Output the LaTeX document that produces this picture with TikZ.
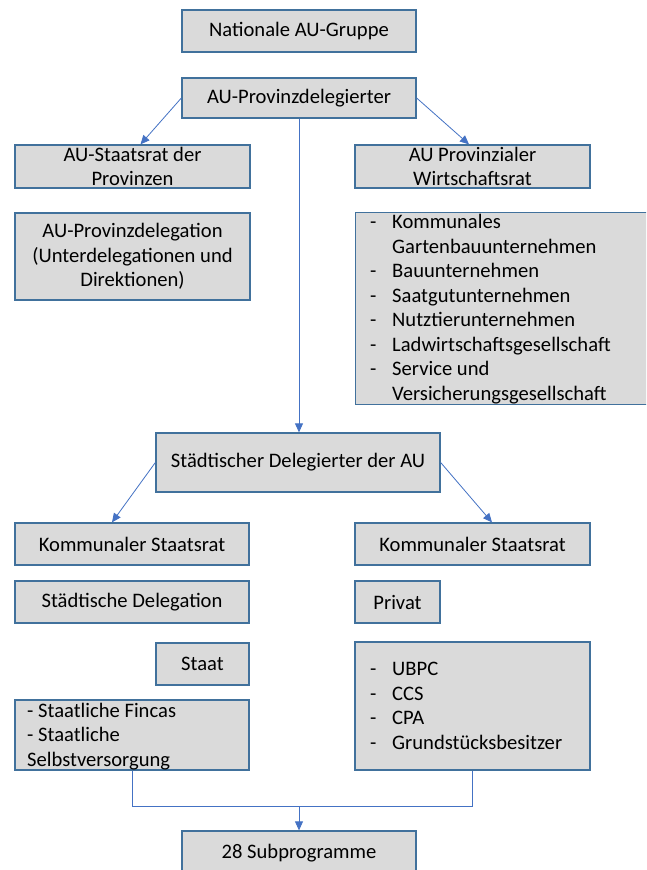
\documentclass[tikz,border=0pt]{standalone}
\usepackage{fontspec}
\setmainfont{Carlito}
\usetikzlibrary{arrows.meta}
\definecolor{boxfill}{HTML}{DADADA}
\definecolor{boxline}{HTML}{41719C}
\definecolor{connc}{HTML}{4472C4}
\newcommand\itemdash{\makebox[22pt][l]{-}}
\newcommand\itemcont{\hspace*{22pt}}
\begin{document}
\begin{tikzpicture}[x=1pt,y=-1pt,
 box/.style={draw=boxline, line width=1.3pt, fill=boxfill, inner sep=0pt},
 lbl/.style={font=\fontsize{20.6}{24.5}\selectfont, inner sep=0pt, align=center},
 lst/.style={font=\fontsize{20.6}{24.5}\selectfont, inner sep=0pt, align=left},
 conn/.style={draw=connc, line width=0.8pt},
 arr/.style={conn, -{Triangle[length=9pt,width=8pt]}}]
\useasboundingbox (0,0) rectangle (646,870);
\clip (0,0) rectangle (646,870);
\fill[white] (0,0) rectangle (646,870);

% boxes
\node[box, minimum width=234, minimum height=42] (ng) at (299,31) {};
\node[box, minimum width=234, minimum height=40] (pd) at (299,98) {};
\node[box, minimum width=235, minimum height=43] (sr) at (132.5,166.5) {};
\node[box, minimum width=235, minimum height=43] (wr) at (472.5,166.5) {};
\node[box, minimum width=235, minimum height=87] (pdl) at (132.5,256.5) {};
\node[box, minimum width=295, minimum height=192, anchor=north west] (lst) at (355,212) {};
\node[box, minimum width=284, minimum height=59] (sd) at (298,462.5) {};
\node[box, minimum width=234, minimum height=42] (ksl) at (132,544) {};
\node[box, minimum width=235, minimum height=42] (ksr) at (472.5,544) {};
\node[box, minimum width=234, minimum height=42] (sdl) at (132,602) {};
\node[box, minimum width=85, minimum height=42] (pv) at (397.5,602) {};
\node[box, minimum width=93, minimum height=42] (st) at (202.5,664) {};
\node[box, minimum width=234, minimum height=70] (fin) at (132,735) {};
\node[box, minimum width=235, minimum height=128] (ub) at (472.5,706) {};
\node[box, minimum width=234, minimum height=46] (sub) at (299,854) {};

% texts
\node[lbl] (ngt) at (ng) {Nationale AU-Gruppe};
\node[lbl] (pdt) at (pd) {AU-Provinzdelegierter};
\node[lbl] (srt) at (sr) {AU-Staatsrat der\\Provinzen};
\node[lbl] (wrt) at (wr) {AU Provinzialer\\Wirtschaftsrat};
\node[lbl] (pdlt) at (pdl) {AU-Provinzdelegation\\(Unterdelegationen und\\Direktionen)};
\node[lst, anchor=west] (lstt) at (370,309) {\itemdash Kommunales\\\itemcont Gartenbauunternehmen\\\itemdash Bauunternehmen\\\itemdash Saatgutunternehmen\\\itemdash Nutztierunternehmen\\\itemdash Ladwirtschaftsgesellschaft\\\itemdash Service und\\\itemcont Versicherungsgesellschaft};
\node[lbl] (sdt) at (sd) {Städtischer Delegierter der AU};
\node[lbl] (kslt) at (ksl) {Kommunaler Staatsrat};
\node[lbl] (ksrt) at (ksr) {Kommunaler Staatsrat};
\node[lbl] (sdlt) at (sdl) {Städtische Delegation};
\node[lbl] (pvt) at (pv) {Privat};
\node[lbl] (stt) at (st) {Staat};
\node[lst, anchor=west] (fint) at (27,736.5) {- Staatliche Fincas\\- Staatliche\\Selbstversorgung};
\node[lst, anchor=west] (ubt) at (370,706) {\itemdash UBPC\\\itemdash CCS\\\itemdash CPA\\\itemdash Grundstücksbesitzer};
\node[lbl] (subt) at (299,853) {28 Subprogramme};

% connectors
\draw[arr] (pd.west) -- ([xshift=8pt]sr.north);
\draw[arr] (pd.east) -- ([xshift=-3.5pt]wr.north);
\draw[arr] (pd.south) -- (pd.south |- sd.north);
\draw[arr] (sd.west) -- ([xshift=-20pt]ksl.north);
\draw[arr] (sd.east) -- ([xshift=19.5pt]ksr.north);
\coordinate (j) at (299,806);
\draw[conn] (fin.south) |- (j) -| (ub.south);
\draw[arr] (j) -- (sub.north);
\end{tikzpicture}
\end{document}
